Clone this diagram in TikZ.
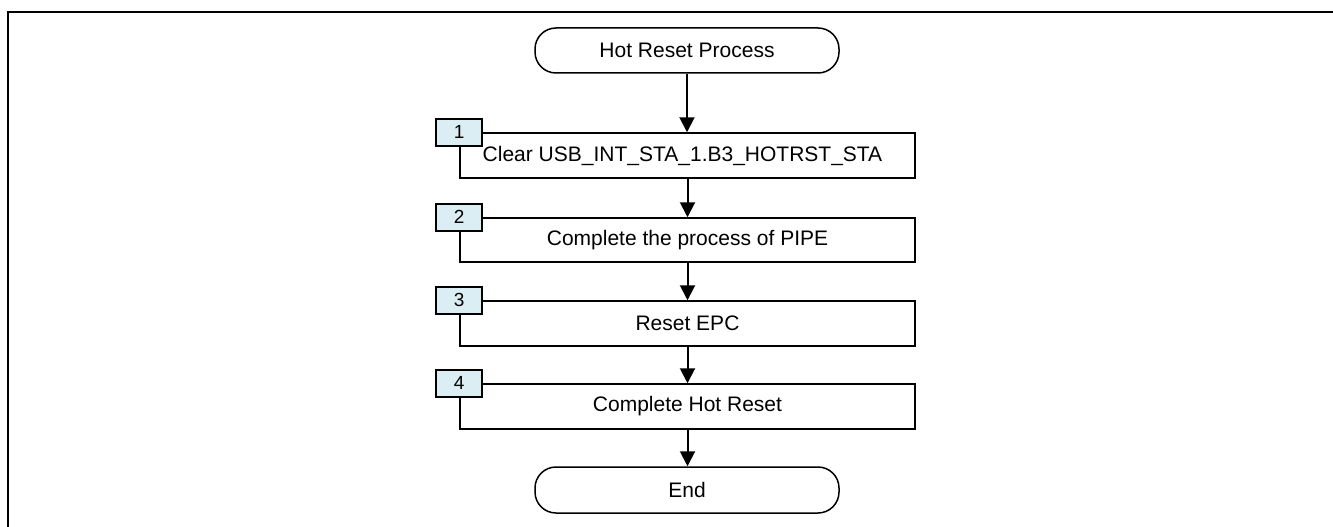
\documentclass[tikz,border=0pt]{standalone}
\usepackage{fontspec}
\setmainfont{Liberation Sans}
\usetikzlibrary{arrows.meta}
\definecolor{lblfill}{HTML}{DAEEF3}
\tikzset{
  term/.style={draw, line width=1.5pt, rounded corners=21pt, minimum width=304pt, minimum height=45pt, inner sep=0pt, font=\fontsize{21}{25}\selectfont},
  stepbox/.style={draw, line width=1.5pt, minimum width=455pt, minimum height=45pt, inner sep=0pt, font=\fontsize{21}{25}\selectfont},
  numbox/.style={draw, line width=1.8pt, fill=lblfill, minimum width=46pt, minimum height=27pt, inner sep=0pt, font=\fontsize{19}{22}\selectfont},
  flow/.style={line width=2pt, -{Triangle[length=15pt,width=15pt]}}
}
\begin{document}
\begin{tikzpicture}[x=1pt,y=-1pt]
\useasboundingbox (0,0) rectangle (1333,527);
\draw[line width=2pt] (8,527) -- (8,12) -- (1333,12);
\node[term] (start) at (687,50.5) {Hot Reset Process};
\node[stepbox] (s1) at (687.5,155.5) {\hspace*{-10pt}Clear USB\_INT\_STA\_1.B3\_HOTRST\_STA};
\node[stepbox, minimum height=44pt] (s2) at (687.5,240) {Complete the process of PIPE};
\node[stepbox] (s3) at (687.5,323.5) {Reset EPC};
\node[stepbox] (s4) at (687.5,406.5) {Complete Hot Reset};
\node[term, minimum height=46pt] (end) at (687,490) {End};
\node[numbox] (n1) at (s1.north west) {1};
\node[numbox] (n2) at (s2.north west) {2};
\node[numbox] (n3) at (s3.north west) {3};
\node[numbox] (n4) at (s4.north west) {4};
\draw[flow] (start.south) -- (start.south |- s1.north);
\draw[flow] (s1.south) -- (s2.north);
\draw[flow] (s2.south) -- (s3.north);
\draw[flow] (s3.south) -- (s4.north);
\draw[flow] (s4.south) -- (s4.south |- end.north);
\end{tikzpicture}
\end{document}
